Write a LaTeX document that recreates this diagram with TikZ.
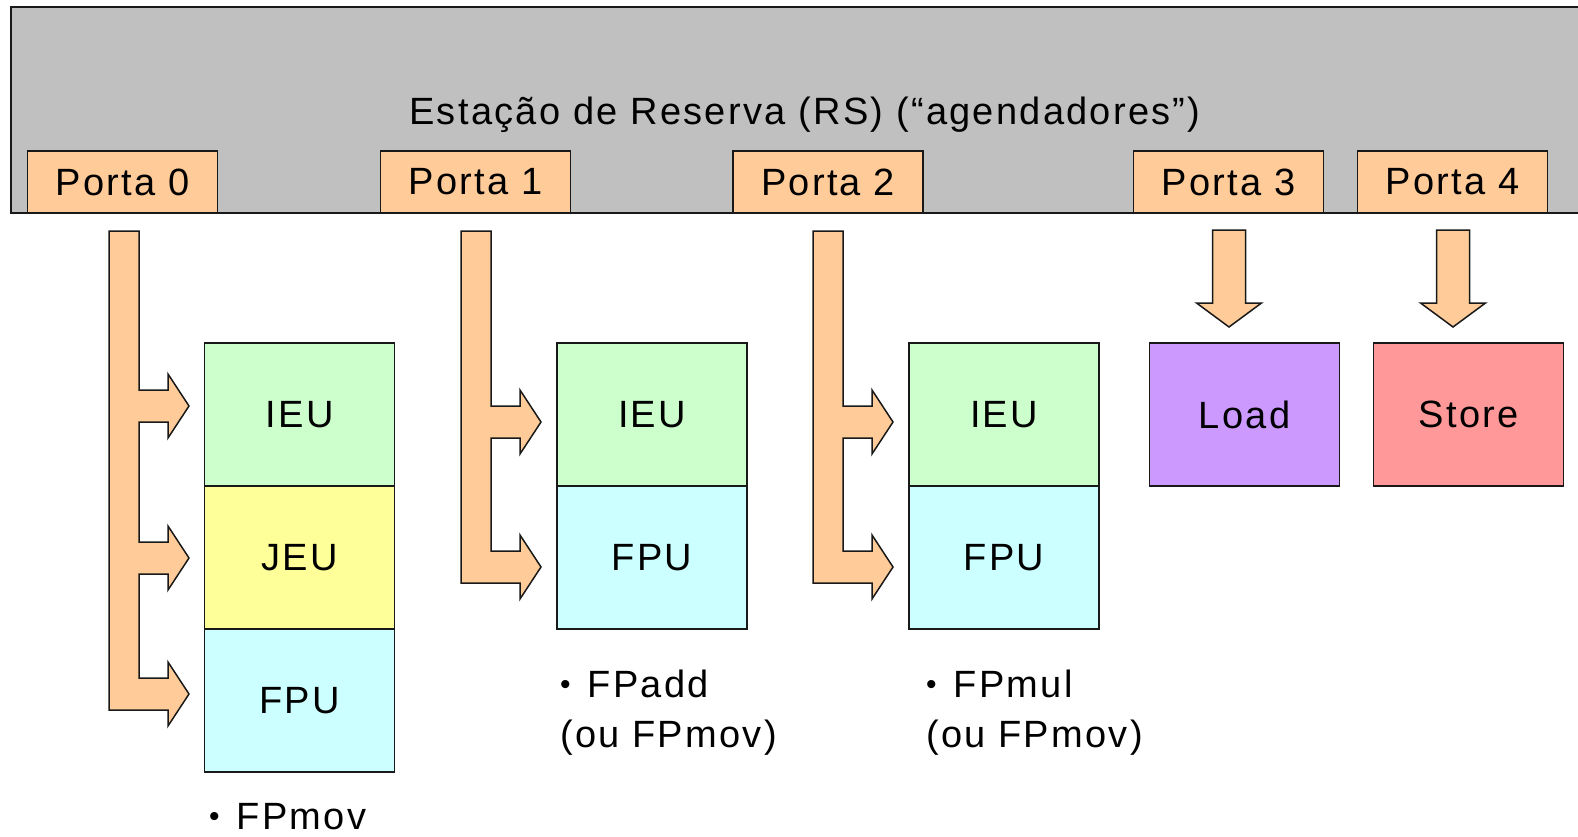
\documentclass[tikz,border=0pt]{standalone}
\usepackage{fontspec}
\setmainfont{Liberation Sans}[LetterSpace=6]
\usepackage{tikz}
\usetikzlibrary{positioning}
\usetikzlibrary{calc}
\definecolor{cinza}{HTML}{C0C0C0}
\definecolor{laranja}{HTML}{FFCC99}
\definecolor{verde}{HTML}{CCFFCC}
\definecolor{amarelo}{HTML}{FFFF99}
\definecolor{ciano}{HTML}{CCFFFF}
\definecolor{roxo}{HTML}{CC99FF}
\definecolor{rosa}{HTML}{FF9999}
\tikzset{t/.style={font=\fontsize{38}{50}\selectfont, inner sep=0pt}}
\tikzset{contorno/.style={draw=black!90, line width=1.5pt}}
\tikzset{
porta/.style={contorno, t, fill=laranja, minimum width=190pt, minimum height=62pt, outer sep=0pt},
unidade/.style={contorno, t, minimum width=190pt, minimum height=143pt, outer sep=0pt},
seta/.style={contorno, fill=laranja, line join=miter}
}
% barra vertical com ramos; #1 x da barra, #2 topo, #3 ramos do meio, #4 ultimo ramo
\newcommand{\ramos}[4]{
  \draw[seta] (#1,#2) -- ++(30,0)
    foreach \yy in {#3} { -- (#1+30,\yy-16) -- (#1+59,\yy-16) -- (#1+59,\yy-32) -- (#1+80,\yy)
      -- (#1+59,\yy+32) -- (#1+59,\yy+16) -- (#1+30,\yy+16) }
    -- (#1+30,#4-16) -- (#1+59,#4-16) -- (#1+59,#4-32) -- (#1+80,#4)
    -- (#1+59,#4+32) -- (#1+59,#4+16) -- (#1,#4+16) -- cycle;
}
\newcommand{\setabaixo}[1]{
  \draw[seta] ($(#1.south)+(-16,17)$) -- ++(33,0) -- ++(0,73) -- ++(16,0) -- ++(-32.5,24)
    -- ++(-32.5,-24) -- ++(16,0) -- cycle;
}
\newcommand{\bolinha}{\raisebox{3pt}{\fontsize{30}{30}\selectfont •}\hspace{17pt}}

\begin{document}
\begin{tikzpicture}[x=1pt, y=-1pt]
    \useasboundingbox (0,0) rectangle (1578,837);
    \clip (0,0) rectangle (1578,837);
    \draw[contorno, fill=cinza] (11,7) rectangle (1600,213);
    \node[t, anchor=base] (rs) at (805,125) {Estação de Reserva (RS) (“agendadores”)};
    \node[porta] (p0) at (122.5,182) {Porta 0};
    \node[porta] (p1) at (475.5,182) {Porta 1};
    \node[porta] (p2) at (828,182) {Porta 2};
    \node[porta] (p3) at (1228.5,182) {Porta 3};
    \node[porta] (p4) at (1452.5,182) {Porta 4};
    % porta 0
    \node[unidade, fill=verde] (ieu0) at (299.5,414.5) {IEU};
    \node[unidade, fill=amarelo, below=0pt of ieu0] (jeu0) {JEU};
    \node[unidade, fill=ciano, below=0pt of jeu0] (fpu0) {FPU};
    % porta 1
    \node[unidade, fill=verde] (ieu1) at (652,414.5) {IEU};
    \node[unidade, fill=ciano, below=0pt of ieu1] (fpu1) {FPU};
    % porta 2
    \node[unidade, fill=verde] (ieu2) at (1004,414.5) {IEU};
    \node[unidade, fill=ciano, below=0pt of ieu2] (fpu2) {FPU};
    % portas 3 e 4
    \node[unidade, fill=roxo] (load) at (1244.5,414.5) {Load};
    \node[unidade, fill=rosa] (store) at (1468.5,414.5) {Store};
    \ramos{109}{231}{406,558}{694}
    \ramos{461}{231}{422}{567}
    \ramos{813}{231}{422}{567}
    \setabaixo{p3}
    \setabaixo{p4}
    \node[t, anchor=base west] (mov0) at (209,829) {\bolinha FPmov};
    \node[t, anchor=base west] (add1) at (560,697) {\bolinha FPadd};
    \node[t, anchor=base west] (ou1) at (560,747) {(ou FPmov)};
    \node[t, anchor=base west] (mul2) at (926,697) {\bolinha FPmul};
    \node[t, anchor=base west] (ou2) at (926,747) {(ou FPmov)};
\end{tikzpicture}
\end{document}
